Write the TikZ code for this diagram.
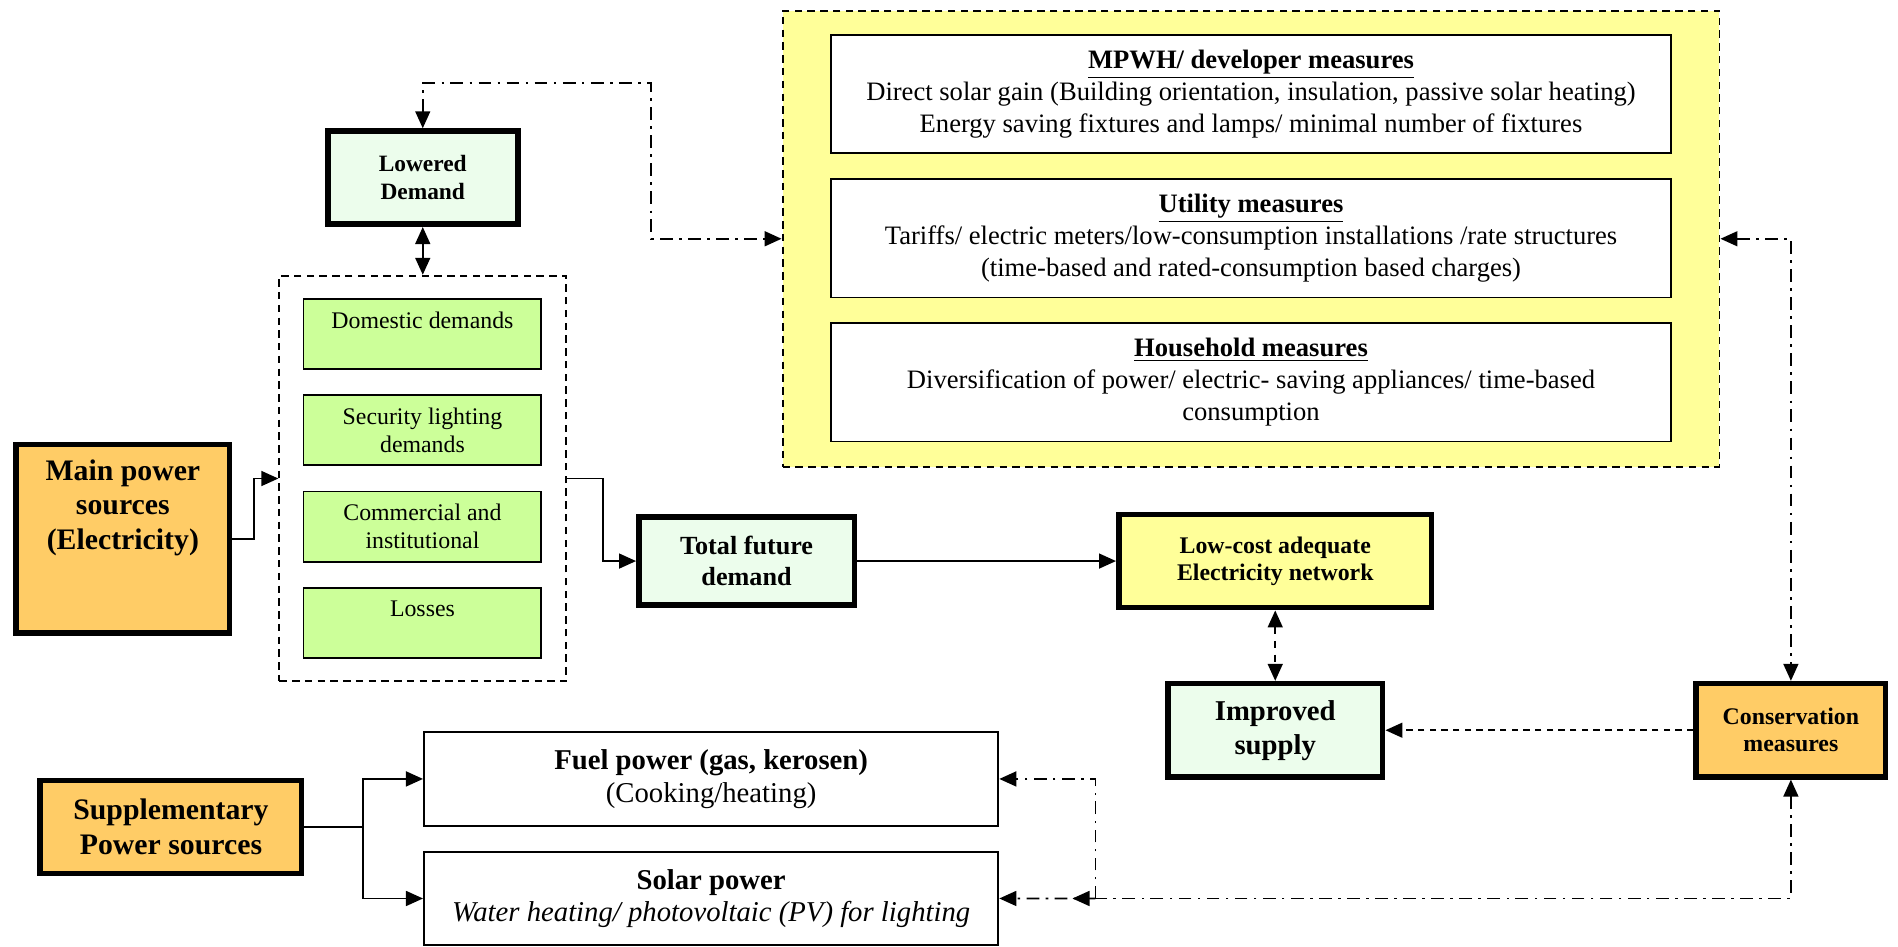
\documentclass[tikz,border=0pt]{standalone}
\usepackage{fontspec}
\setmainfont{Liberation Serif}
\usepackage{xcolor}
\usetikzlibrary{arrows.meta,positioning}

\definecolor{orangebox}{RGB}{255,204,102}
\definecolor{mintbox}{RGB}{236,253,236}
\definecolor{limebox}{RGB}{204,255,153}
\definecolor{lemonbox}{RGB}{255,255,153}

\begin{document}
\begin{tikzpicture}[node distance=1.59cm, >={Triangle[length=8pt,width=7pt]},
    heavy/.style={rectangle, draw, line width=2.6pt, inner sep=1pt, align=center},
    light/.style={rectangle, draw, line width=0.9pt, inner sep=1pt, align=center},
    demandbox/.style={light, fill=limebox, minimum width=3.93cm, minimum height=1.16cm, font=\fontsize{11.2}{13}\selectfont},
    measurebox/.style={light, fill=white, minimum width=13.87cm, minimum height=1.96cm, font=\fontsize{12.5}{15}\selectfont},
    usebox/.style={light, fill=white, minimum width=9.49cm, minimum height=1.55cm, font=\fontsize{13.5}{15.4}\selectfont},
    dashframe/.style={rectangle, draw, line width=0.9pt, dash pattern=on 3.5pt off 2.5pt},
    link/.style={line width=0.9pt},
    chainlink/.style={link, dash pattern=on 6pt off 3pt on 1.2pt off 3pt},
    broken/.style={link, dash pattern=on 3.5pt off 3pt}]
    \useasboundingbox (0,0) rectangle (31.36,-15.64);

    % measures
    \node[dashframe, fill=lemonbox, minimum width=15.48cm, minimum height=7.53cm] (measures) at (20.67,-3.945) {};
    \node[measurebox] (mpwh) at (20.67,-1.555) {\underline{\textbf{MPWH/ developer measures}}\\ Direct solar gain (Building orientation, insulation, passive solar heating)\\ Energy saving fixtures and lamps/ minimal number of fixtures};
    \node[measurebox, below of=mpwh, node distance=2.38cm] (utility) {\underline{\textbf{Utility measures}}\\ Tariffs/ electric meters/low-consumption installations /rate structures\\ (time-based and rated-consumption based charges)};
    \node[measurebox, below of=utility, node distance=2.38cm] (household) {\underline{\textbf{Household measures}}\\ Diversification of power/ electric- saving appliances/ time-based\\ consumption};

    % demand side
    \node[heavy, fill=mintbox, minimum width=3.14cm, minimum height=1.54cm, font=\bfseries\fontsize{11}{13}\selectfont] (lowered) at (6.985,-2.935) {Lowered\\ Demand};
    \node[dashframe, minimum width=4.74cm, minimum height=6.7cm] (demands) at (6.985,-7.906) {};
    \node[demandbox] (domestic) at (6.98,-5.52) {Domestic demands\\ \mbox{}};
    \node[demandbox, below of=domestic] (security) {Security lighting\\ demands};
    \node[demandbox, below of=security] (commercial) {Commercial and\\ institutional};
    \node[demandbox, below of=commercial] (losses) {Losses\\ \mbox{}};

    \node[heavy, fill=orangebox, minimum width=3.53cm, minimum height=3.11cm, font=\bfseries\fontsize{14}{16.2}\selectfont] (main) at (2.03,-8.9) {Main power\\ sources\\ (Electricity)\\ \mbox{}\\ \mbox{}};
    \node[heavy, fill=mintbox, minimum width=3.56cm, minimum height=1.46cm, font=\bfseries\fontsize{12.3}{14.8}\selectfont] (total) at (12.335,-9.27) {Total future\\ demand};
    \node[heavy, fill=lemonbox, minimum width=5.17cm, minimum height=1.54cm, font=\bfseries\fontsize{11.2}{12.8}\selectfont] (lowcost) at (21.07,-9.27) {Low-cost adequate\\ Electricity network};
    \node[heavy, fill=mintbox, minimum width=3.55cm, minimum height=1.54cm, font=\bfseries\fontsize{13.5}{16}\selectfont] (improved) at (21.07,-12.065) {Improved\\ supply};
    \node[heavy, fill=orangebox, minimum width=3.13cm, minimum height=1.54cm, font=\bfseries\fontsize{11.2}{12.8}\selectfont] (conservation) at (29.59,-12.065) {Conservation\\ measures};

    % supplementary side
    \node[heavy, fill=orangebox, minimum width=4.32cm, minimum height=1.54cm, font=\bfseries\fontsize{14}{16.5}\selectfont] (supp) at (2.825,-13.665) {Supplementary\\ Power sources};
    \node[usebox] (fuel) at (11.75,-12.87) {\textbf{Fuel power (gas, kerosen)}\\ (Cooking/heating)};
    \node[usebox, below of=fuel, node distance=1.975cm] (solar) {\textbf{Solar power}\\ \textit{Water heating/ photovoltaic (PV) for lighting}};

    \draw[chainlink, <->] (lowered.north) |- (10.76,-1.376) |- (measures.west);
    \draw[link, <->] (lowered) -- (demands);
    \draw[link, ->] (main.east) -- ++(0.36,0) |- (demands.west);
    \draw[link, ->] (demands.east) -- ++(0.59,0) |- (total.west);
    \draw[link, ->] (total) -- (lowcost);
    \draw[broken, <->] (lowcost) -- (improved);
    \draw[link, dash pattern=on 3pt off 2.5pt, ->] (conservation) -- (improved);
    \draw[chainlink, <->] (measures.east) -| (conservation.north);

    \coordinate (split) at (18.1,-14.845);
    \draw[chainlink, <->] (conservation.south) |- ([xshift=-0.38cm]split);
    \draw[chainlink, ->] (split) -- (solar.east);
    \draw[chainlink, ->] (split) |- (fuel.east);

    \draw[link, ->] (supp.east) -- ++(0.97,0) |- (fuel.west);
    \draw[link, ->] (supp.east) -- ++(0.97,0) |- (solar.west);
\end{tikzpicture}
\end{document}
